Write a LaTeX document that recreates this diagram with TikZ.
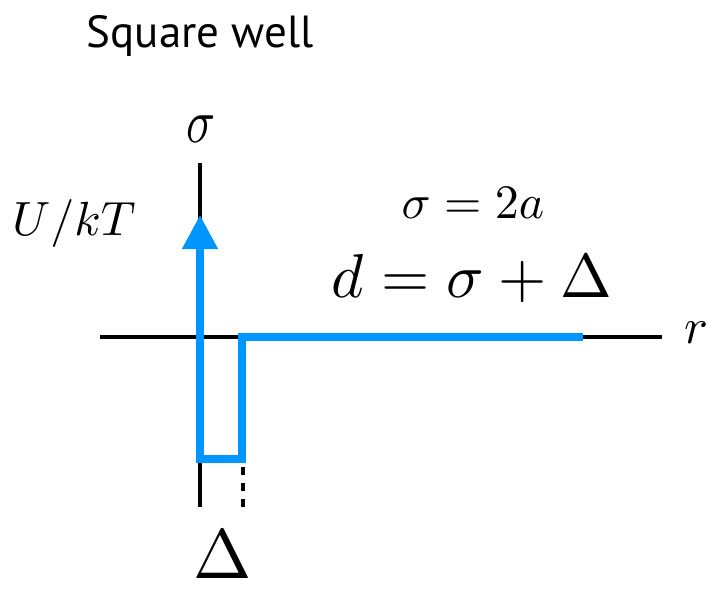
\documentclass[tikz,border=0pt]{standalone}
\usepackage{graphicx}
\usepackage{fontspec}
\setsansfont{PT Sans}
\usetikzlibrary{arrows.meta}
\definecolor{wellblue}{RGB}{0,150,255}
\tikzset{
  axis/.style={line width=4pt, black},
  well/.style={line width=7.5pt, wellblue, line join=miter},
  lbl/.style={inner sep=0pt, anchor=center},
}
\begin{document}
\begin{tikzpicture}[x=1pt,y=-1pt]
\useasboundingbox (0,0) rectangle (706,590);
% coordinates
\coordinate (vtop) at (200,163);
\coordinate (vbot) at (200,507);
\coordinate (hleft) at (100,337);
\coordinate (hright) at (662,337);
\coordinate (wstart) at (583,337);
\coordinate (wstep) at (242,337);
\coordinate (wbr) at (242,459);
\coordinate (wbl) at (200,459);
\coordinate (wtip) at (200,215);
\coordinate (dtop) at (243,467);
\coordinate (dbot) at (243,508);
% axes
\draw[axis] (vtop) -- (vbot);
\draw[axis] (hleft) -- (hright);
\draw[line width=4pt, dash pattern=on 8pt off 8pt] (dtop) -- (dbot);
% well
\draw[well, -{Triangle[length=34pt,width=34pt]}] (wstart) -- (wstep) -- (wbr) -- (wbl) -- (wtip);
% labels
\node[lbl] (title) at (200,36) {\sffamily\fontsize{45}{54}\selectfont Square well};
\node[lbl] (sig) at (201,129) {\scalebox{4.8}[6.2]{$\sigma$}};
\node[lbl] (ukt) at (74,223) {\scalebox{4.8}{$U/kT$}};
\node[lbl] (sig2a) at (473,203) {\scalebox{4.8}{$\sigma = 2a$}};
\node[lbl] (dsd) at (472,279) {\scalebox{6.2}{$d = \sigma + \Delta$}};
\node[lbl] (r) at (696,333) {\scalebox{5.0}{$r$}};
\node[lbl] (delta) at (223,555) {\scalebox{7.0}{$\Delta$}};
\end{tikzpicture}
\end{document}
